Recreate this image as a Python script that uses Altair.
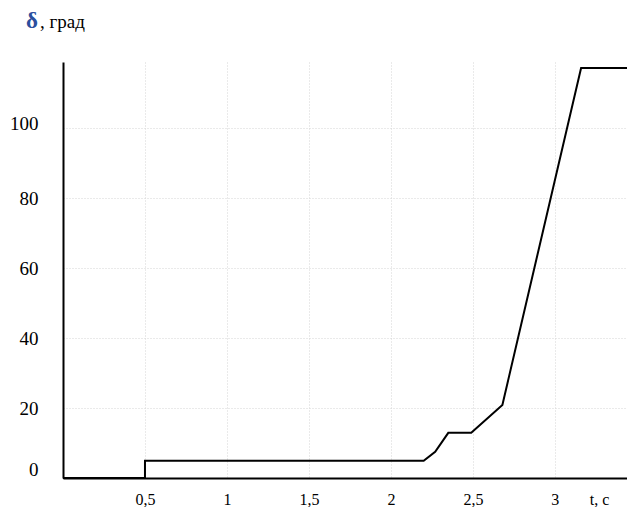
import altair as alt
import pandas as pd

# data
t_values = [0, 0.5, 0.5, 2.2, 2.27, 2.35, 2.49, 2.68, 3.16, 3.44]
delta_values = [0, 0, 4.9, 4.9, 7.5, 12.9, 12.9, 20.9, 117.2, 117.2]
x_ticks = [0.5, 1, 1.5, 2, 2.5, 3]
y_ticks = [0, 20, 40, 60, 80, 100]
title_parts = ["δ", ", град"]
x_title = "t, с"

FONT = "Liberation Serif"

df = pd.DataFrame({"t": t_values, "d": delta_values})

line = alt.Chart(df).mark_line(color="black", strokeWidth=2, clip=False).encode(
    x=alt.X(
        "t:Q",
        scale=alt.Scale(domain=[0, 3.44], nice=False, zero=True),
        axis=alt.Axis(
            values=x_ticks,
            labelExpr="replace(toString(datum.value), '.', ',')",
            grid=True,
            gridColor="#d4d4d4",
            gridDash=[1, 2],
            gridWidth=1,
            ticks=False,
            domain=True,
            domainColor="black",
            domainWidth=2,
            labelPadding=26,
            labelBaseline="alphabetic",
            labelFont=FONT,
            labelFontSize=16,
            labelColor="black",
            title=x_title,
            titleFont=FONT,
            titleFontSize=16,
            titleFontWeight="normal",
            titleColor="black",
            titleX=536,
            titleY=26,
            titleAlign="center",
            titleBaseline="alphabetic",
            titleAnchor="start",
        ),
    ),
    y=alt.Y(
        "d:Q",
        scale=alt.Scale(domain=[0, 118.9], nice=False),
        axis=alt.Axis(
            values=y_ticks,
            grid=True,
            gridColor="#d4d4d4",
            gridDash=[1, 2],
            gridWidth=1,
            ticks=False,
            domain=True,
            domainColor="black",
            domainWidth=2,
            labelPadding=25,
            labelFont=FONT,
            labelFontSize=19,
            labelColor="black",
            labelOffset={
                "condition": [
                    {"test": "datum.value == 0", "value": -9},
                    {"test": "datum.value == 100", "value": -5},
                ],
                "value": 0,
            },
            title=None,
        ),
    ),
)

tdf = pd.DataFrame({"part": title_parts})

delta_txt = alt.Chart(tdf).transform_filter(alt.datum.part == title_parts[0]).mark_text(
    font=FONT, fontSize=23, fontWeight="bold", color="#2b4f9e", align="left", baseline="alphabetic"
).encode(text="part:N", x=alt.value(-37), y=alt.value(-34))

unit_txt = alt.Chart(tdf).transform_filter(alt.datum.part == title_parts[1]).mark_text(
    font=FONT, fontSize=19, color="black", align="left", baseline="alphabetic"
).encode(text="part:N", x=alt.value(-23), y=alt.value(-34))

chart = alt.layer(line, delta_txt, unit_txt).properties(
    width=564,
    height=416,
    autosize=alt.AutoSizeParams(type="none"),
    padding={"left": 55, "top": 54, "right": 0, "bottom": 29},
).configure_view(stroke=None)

chart.save("out.html", embed_options={"renderer": "svg", "actions": False})
